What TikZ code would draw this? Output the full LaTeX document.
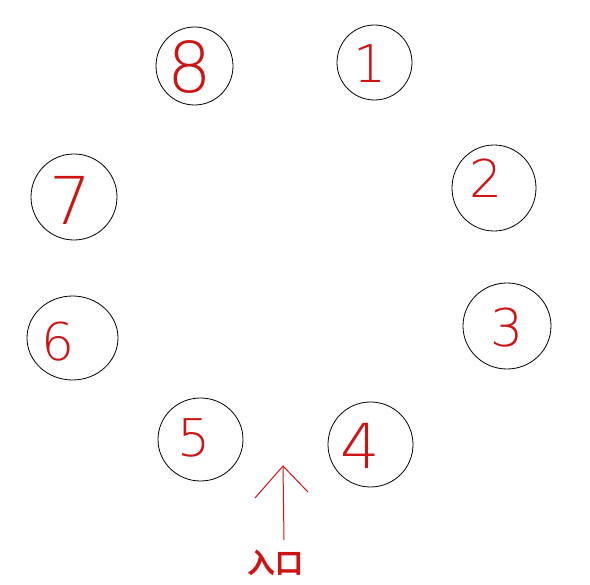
\documentclass[tikz,border=0pt]{standalone}
\usepackage{fontspec}
\usetikzlibrary{shapes.geometric}
\newfontfamily\digitfont{DejaVu Sans ExtraLight}
\newfontfamily\cjk{Noto Sans CJK SC Bold}
\definecolor{hred}{RGB}{205,20,20}
\begin{document}
\begin{tikzpicture}[x=1pt,y=-1pt,
  ring/.style={draw=black,line width=0.8pt,ellipse,inner sep=0pt},
  digit/.style={text=hred,font=\digitfont\fontsize{52}{52}\selectfont,inner sep=0pt},
  redline/.style={draw=hred,line width=1pt}]
\useasboundingbox (0,0) rectangle (590,585);
\node[ring,minimum width=77pt,minimum height=78pt] (c8) at (194.5,66) {};
\node[ring,minimum width=75pt,minimum height=75pt] (c1) at (374.5,62.5) {};
\node[ring,minimum width=84pt,minimum height=86pt] (c2) at (494,188) {};
\node[ring,minimum width=88pt,minimum height=86pt] (c3) at (507,326) {};
\node[ring,minimum width=85pt,minimum height=85pt] (c4) at (370.5,444.5) {};
\node[ring,minimum width=85pt,minimum height=83pt] (c5) at (200.5,439.5) {};
\node[ring,minimum width=91pt,minimum height=84pt] (c6) at (72.5,338) {};
\node[ring,minimum width=86pt,minimum height=86pt] (c7) at (74,197) {};
\node[digit,font=\digitfont\fontsize{70}{70}\selectfont] (d8) at (190,67) {8};
\node[digit] (d1) at (370,64) {1};
\node[digit] (d2) at (486,178) {2};
\node[digit] (d3) at (507,328) {3};
\node[digit,font=\digitfont\fontsize{62}{62}\selectfont] (d4) at (360,446) {4};
\node[digit] (d5) at (194,438) {5};
\node[digit] (d6) at (58,342) {6};
\node[digit,font=\digitfont\fontsize{66}{66}\selectfont] (d7) at (70,200) {7};
\coordinate (tip) at (283,466);
\coordinate (armL) at (255,498);
\coordinate (armR) at (308,492);
\coordinate (tail) at (284,540);
\draw[redline] (armL) -- (tip) -- (armR);
\draw[redline] (tail) -- (tip);
\node[text=hred,font=\cjk\fontsize{28}{28}\selectfont,inner sep=0pt] (entry) at (275.5,562.5) {入口};
\end{tikzpicture}
\end{document}
